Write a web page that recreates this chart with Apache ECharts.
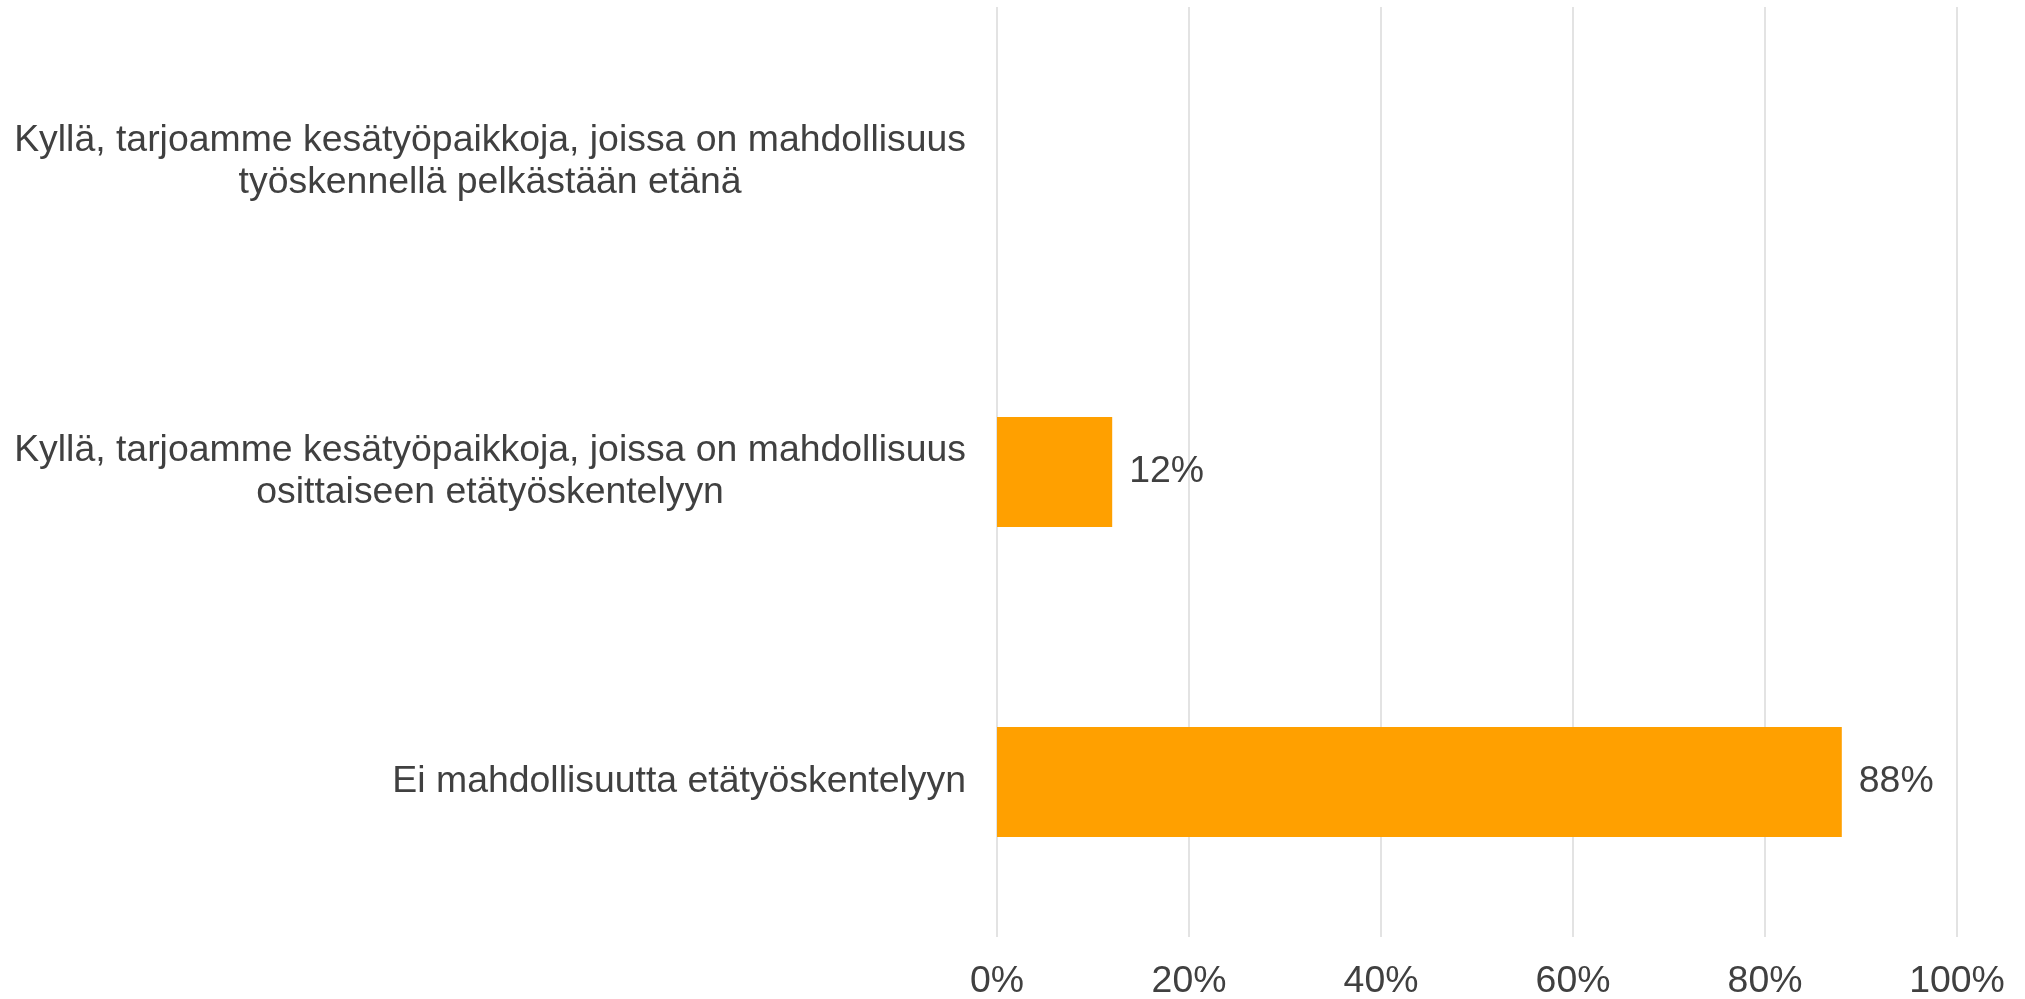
<!DOCTYPE html>
<html>
<head>
<meta charset="utf-8">
<title>Etätyömahdollisuus kesätöissä</title>
<script src="https://cdn.jsdelivr.net/npm/echarts@6/dist/echarts.min.js"></script>
<style>
  html, body {
    margin: 0;
    padding: 0;
    background: #ffffff;
  }
  #chart {
    width: 2025px;
    height: 999px;
  }
</style>
</head>
<body>
<div id="chart"></div>
<script>
// answer options, top to bottom (lines split as in the original)
const categories = [
  'Kyllä, tarjoamme kesätyöpaikkoja, joissa on mahdollisuus\ntyöskennellä pelkästään etänä',
  'Kyllä, tarjoamme kesätyöpaikkoja, joissa on mahdollisuus\nosittaiseen etätyöskentelyyn',
  'Ei mahdollisuutta etätyöskentelyyn'
]
// share of respondents, %
const shares = [0, 12, 88]
// x axis ticks
const xMin = 0
const xMax = 100
const xStep = 20

const textColor = '#404040'
const font = '"Liberation Sans", Arial, sans-serif'
const fontSize = 37.4

const chart = echarts.init(document.getElementById('chart'))

const option = {
  animation: false,
  grid: {
    left: 997,
    right: 68,
    top: 7,
    bottom: 62,
    containLabel: false,
    outerBoundsMode: 'none'
  },
  xAxis: {
    type: 'value',
    min: xMin,
    max: xMax,
    interval: xStep,
    axisLine: { show: false },
    axisTick: { show: false },
    splitLine: {
      show: true,
      lineStyle: { color: '#dadada', width: 1.5 }
    },
    axisLabel: {
      margin: 26,
      color: textColor,
      fontSize: fontSize,
      fontFamily: font,
      formatter: '{value}%'
    }
  },
  yAxis: {
    type: 'category',
    inverse: true,
    data: categories,
    axisLine: { show: false },
    axisTick: { show: false },
    axisLabel: {
      margin: 31,
      color: textColor,
      fontSize: fontSize,
      fontFamily: font,
      lineHeight: 42,
      formatter: function (value) {
        // each line centred within the label block
        return value.split('\n').map(function (l) {
          return '{c|' + l + '}'
        }).join('\n')
      },
      rich: {
        c: {
          align: 'center',
          color: textColor,
          fontSize: fontSize,
          fontFamily: font,
          lineHeight: 42
        }
      }
    }
  },
  series: [{
    type: 'bar',
    data: shares,
    barWidth: 110,
    itemStyle: { color: '#FFA000' },
    label: {
      show: true,
      position: 'right',
      distance: 17,
      color: textColor,
      fontSize: fontSize,
      fontFamily: font,
      formatter: function (p) {
        return p.value > 0 ? p.value + '%' : ''
      }
    }
  }]
}

chart.setOption(option)
</script>
</body>
</html>
